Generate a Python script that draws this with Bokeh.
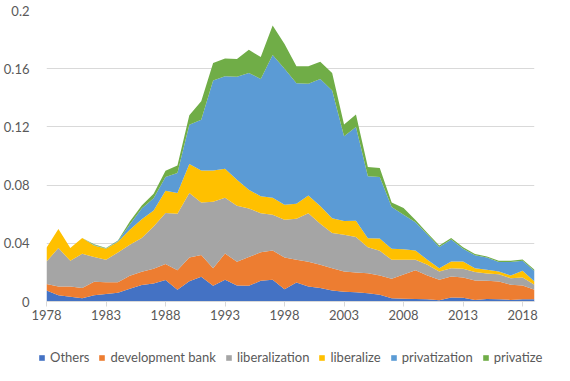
from bokeh.plotting import figure
from bokeh.layouts import column
from bokeh.models import ColumnDataSource, Range1d, FixedTicker, NumeralTickFormatter, Legend
from bokeh.embed import file_html
from bokeh.resources import INLINE

years = list(range(1978, 2020))

others = [0.0075, 0.0043, 0.0033, 0.0022, 0.0043, 0.0052, 0.0060, 0.0088, 0.0113, 0.0124,
          0.0148, 0.0080, 0.0140, 0.0170, 0.0108, 0.0149, 0.0110, 0.0108, 0.0142, 0.0149,
          0.0085, 0.0131, 0.0103, 0.0092, 0.0076, 0.0067, 0.0064, 0.0057, 0.0046, 0.0023,
          0.0019, 0.0017, 0.0016, 0.0009, 0.0028, 0.0025, 0.0011, 0.0018, 0.0016, 0.0011,
          0.0016, 0.0016]
development_bank = [0.0045, 0.0060, 0.0070, 0.0071, 0.0092, 0.0081, 0.0073, 0.0089, 0.0091, 0.0101,
                    0.0110, 0.0135, 0.0163, 0.0150, 0.0120, 0.0181, 0.0163, 0.0197, 0.0196, 0.0202,
                    0.0217, 0.0156, 0.0170, 0.0160, 0.0153, 0.0139, 0.0136, 0.0138, 0.0133, 0.0133,
                    0.0167, 0.0198, 0.0163, 0.0140, 0.0144, 0.0140, 0.0134, 0.0124, 0.0122, 0.0104,
                    0.0094, 0.0064]
liberalization = [0.0155, 0.0264, 0.0177, 0.0235, 0.0170, 0.0154, 0.0204, 0.0213, 0.0232, 0.0291,
                  0.0350, 0.0388, 0.0443, 0.0360, 0.0458, 0.0383, 0.0385, 0.0335, 0.0268, 0.0246,
                  0.0260, 0.0281, 0.0333, 0.0283, 0.0241, 0.0253, 0.0243, 0.0178, 0.0169, 0.0131,
                  0.0101, 0.0072, 0.0073, 0.0057, 0.0057, 0.0060, 0.0057, 0.0051, 0.0050, 0.0045,
                  0.0055, 0.0035]
liberalize = [0.0095, 0.0131, 0.0087, 0.0108, 0.0080, 0.0075, 0.0073, 0.0103, 0.0129, 0.0109,
              0.0154, 0.0143, 0.0199, 0.0220, 0.0214, 0.0200, 0.0179, 0.0128, 0.0117, 0.0116,
              0.0103, 0.0104, 0.0123, 0.0121, 0.0102, 0.0094, 0.0112, 0.0061, 0.0085, 0.0075,
              0.0072, 0.0063, 0.0035, 0.0023, 0.0046, 0.0050, 0.0027, 0.0025, 0.0018, 0.0019,
              0.0046, 0.0023]
privatization = [0.0, 0.0, 0.0, 0.0, 0.0003, 0.0003, 0.0005, 0.0037, 0.0075, 0.0085,
                 0.0093, 0.0137, 0.0269, 0.0350, 0.0619, 0.0635, 0.0707, 0.0802, 0.0807, 0.0982,
                 0.0935, 0.0828, 0.0767, 0.0874, 0.0878, 0.0583, 0.0645, 0.0426, 0.0423, 0.0288,
                 0.0237, 0.0195, 0.0173, 0.0146, 0.0151, 0.0087, 0.0089, 0.0084, 0.0066, 0.0093,
                 0.0069, 0.0072]
privatize = [0.0, 0.0, 0.0, 0.0, 0.0005, 0.0003, 0.0005, 0.0020, 0.0020, 0.0030,
             0.0043, 0.0051, 0.0066, 0.0126, 0.0121, 0.0122, 0.0122, 0.0160, 0.0150, 0.0202,
             0.0170, 0.0117, 0.0121, 0.0117, 0.0120, 0.0080, 0.0085, 0.0065, 0.0062, 0.0031,
             0.0046, 0.0015, 0.0010, 0.0010, 0.0010, 0.0010, 0.0008, 0.0008, 0.0008, 0.0008,
             0.0009, 0.0008]

x_ticks = [1978, 1983, 1988, 1993, 1998, 2003, 2008, 2013, 2018]
y_ticks = [0, 0.04, 0.08, 0.12, 0.16, 0.2]

names = ["Others", "development bank", "liberalization", "liberalize", "privatization", "privatize"]
colors = ["#4472C4", "#ED7D31", "#A5A5A5", "#FFC000", "#5B9BD5", "#70AD47"]

source = ColumnDataSource(data={
    "year": years,
    "Others": others,
    "development bank": development_bank,
    "liberalization": liberalization,
    "liberalize": liberalize,
    "privatization": privatization,
    "privatize": privatize,
})

FONT = "Lato"
TXT = "#595959"

# main chart
p = figure(frame_width=488, frame_height=291, output_backend="svg", toolbar_location=None,
           x_range=Range1d(1978, 2019), y_range=Range1d(0, 0.2),
           min_border_left=41, min_border_right=25, min_border_top=10, min_border_bottom=35)
p.outline_line_color = None
p.background_fill_color = "white"
p.border_fill_color = "white"

p.varea_stack(stackers=names, x="year", color=colors, source=source)

p.xgrid.grid_line_color = None
p.ygrid.grid_line_color = "#D9D9D9"
p.ygrid.grid_line_width = 1
p.ygrid.ticker = FixedTicker(ticks=y_ticks)

p.yaxis.ticker = FixedTicker(ticks=y_ticks)
p.yaxis.formatter = NumeralTickFormatter(format="0.[00]")
p.yaxis.axis_line_color = None
p.yaxis.major_tick_line_color = None
p.yaxis.minor_tick_line_color = None
p.yaxis.major_label_standoff = 11
p.yaxis.major_label_text_font = FONT
p.yaxis.major_label_text_font_size = "13px"
p.yaxis.major_label_text_color = TXT

p.xaxis.ticker = FixedTicker(ticks=x_ticks)
p.xaxis.axis_line_color = "#D9D9D9"
p.xaxis.major_tick_line_color = "#D9D9D9"
p.xaxis.major_tick_in = 0
p.xaxis.major_tick_out = 5
p.xaxis.minor_tick_line_color = None
p.xaxis.major_label_standoff = 3
p.xaxis.major_label_text_font = FONT
p.xaxis.major_label_text_font_size = "13px"
p.xaxis.major_label_text_color = TXT

# legend strip (its own small figure so the legend is never clipped)
pl = figure(frame_width=554, frame_height=29, output_backend="svg", toolbar_location=None,
            x_range=p.x_range, y_range=Range1d(1, 2),
            x_axis_location=None, y_axis_location=None,
            min_border_left=0, min_border_right=0, min_border_top=0, min_border_bottom=0)
pl.outline_line_color = None
pl.grid.visible = False
leg_renderers = pl.varea_stack(stackers=names, x="year", color=colors, source=source)

legend = Legend(items=[(n, [r]) for n, r in zip(names, leg_renderers)],
                orientation="horizontal", location=(38, 0),
                glyph_width=7, glyph_height=7, label_standoff=5, spacing=9,
                label_text_font=FONT, label_text_font_size="13px", label_text_color=TXT,
                label_height=14, padding=0, margin=0,
                border_line_color=None, background_fill_alpha=0)
pl.add_layout(legend, "center")

layout = column(p, pl, spacing=0)
open("out.html", "w").write(file_html(layout, INLINE))
